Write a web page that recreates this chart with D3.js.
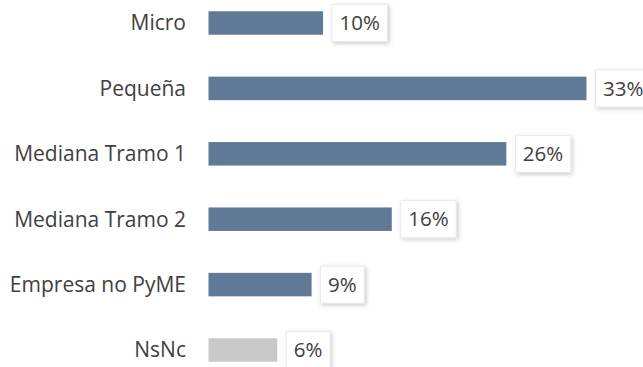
<!DOCTYPE html>
<html>
<head>
<meta charset="utf-8">
<script src="https://cdn.jsdelivr.net/npm/d3@7"></script>
<style>
  html, body { margin: 0; padding: 0; background: #fff; }
  svg { display: block; }
</style>
</head>
<body>
<svg id="chart" width="643" height="367"></svg>
<script>
// Distribución por tamaño de empresa
const categories = ["Micro", "Pequeña", "Mediana Tramo 1", "Mediana Tramo 2", "Empresa no PyME", "NsNc"];
const values = [10, 33, 26, 16, 9, 6];
const valueLabels = ["10%", "33%", "26%", "16%", "9%", "6%"];
const barColors = ["#5f7a96", "#5f7a96", "#5f7a96", "#5f7a96", "#5f7a96", "#c9c9c9"];

const svg = d3.select("#chart");
const font = "'Open Sans', 'Noto Sans', sans-serif";

const x = d3.scaleLinear().domain([0, 33]).range([208.5, 586.5]);
const y = d3.scalePoint().domain(categories).range([23, 350]);
const barH = 23.5;

// drop shadow for the value boxes
const defs = svg.append("defs");
const f = defs.append("filter").attr("id", "shadow")
  .attr("x", "-30%").attr("y", "-30%").attr("width", "160%").attr("height", "160%");
f.append("feDropShadow").attr("dx", 1.5).attr("dy", 1.5).attr("stdDeviation", 2)
  .attr("flood-color", "#000").attr("flood-opacity", 0.22);

// category axis labels
svg.append("g").selectAll("text").data(categories).join("text")
  .attr("x", 186).attr("y", d => y(d))
  .attr("dy", "0.35em")
  .attr("text-anchor", "end")
  .attr("font-family", font).attr("font-size", 21)
  .attr("fill", "#404040")
  .text(d => d);

// bars
svg.append("g").selectAll("rect").data(categories).join("rect")
  .attr("x", x(0))
  .attr("y", d => y(d) - barH / 2)
  .attr("width", (d, i) => x(values[i]) - x(0))
  .attr("height", barH)
  .attr("fill", (d, i) => barColors[i]);

// value labels in boxes
const lbl = svg.append("g").selectAll("g").data(categories).join("g")
  .attr("transform", (d, i) => `translate(${x(values[i]) + 9},${y(d)})`);

lbl.append("text")
  .attr("class", "v")
  .attr("x", 0).attr("dy", "0.35em")
  .attr("font-family", font).attr("font-size", 20.5)
  .attr("fill", "#404040")
  .text((d, i) => valueLabels[i]);

lbl.each(function () {
  const g = d3.select(this);
  const t = g.select("text");
  const w = t.node().getComputedTextLength();
  const padX = 7.5, h = 37;
  g.insert("rect", "text")
    .attr("x", 0).attr("y", -h / 2)
    .attr("width", w + padX * 2).attr("height", h)
    .attr("fill", "#fff")
    .attr("stroke", "#e6e6e6").attr("stroke-width", 0.8)
    .attr("filter", "url(#shadow)");
  t.attr("x", padX);
});
</script>
</body>
</html>
